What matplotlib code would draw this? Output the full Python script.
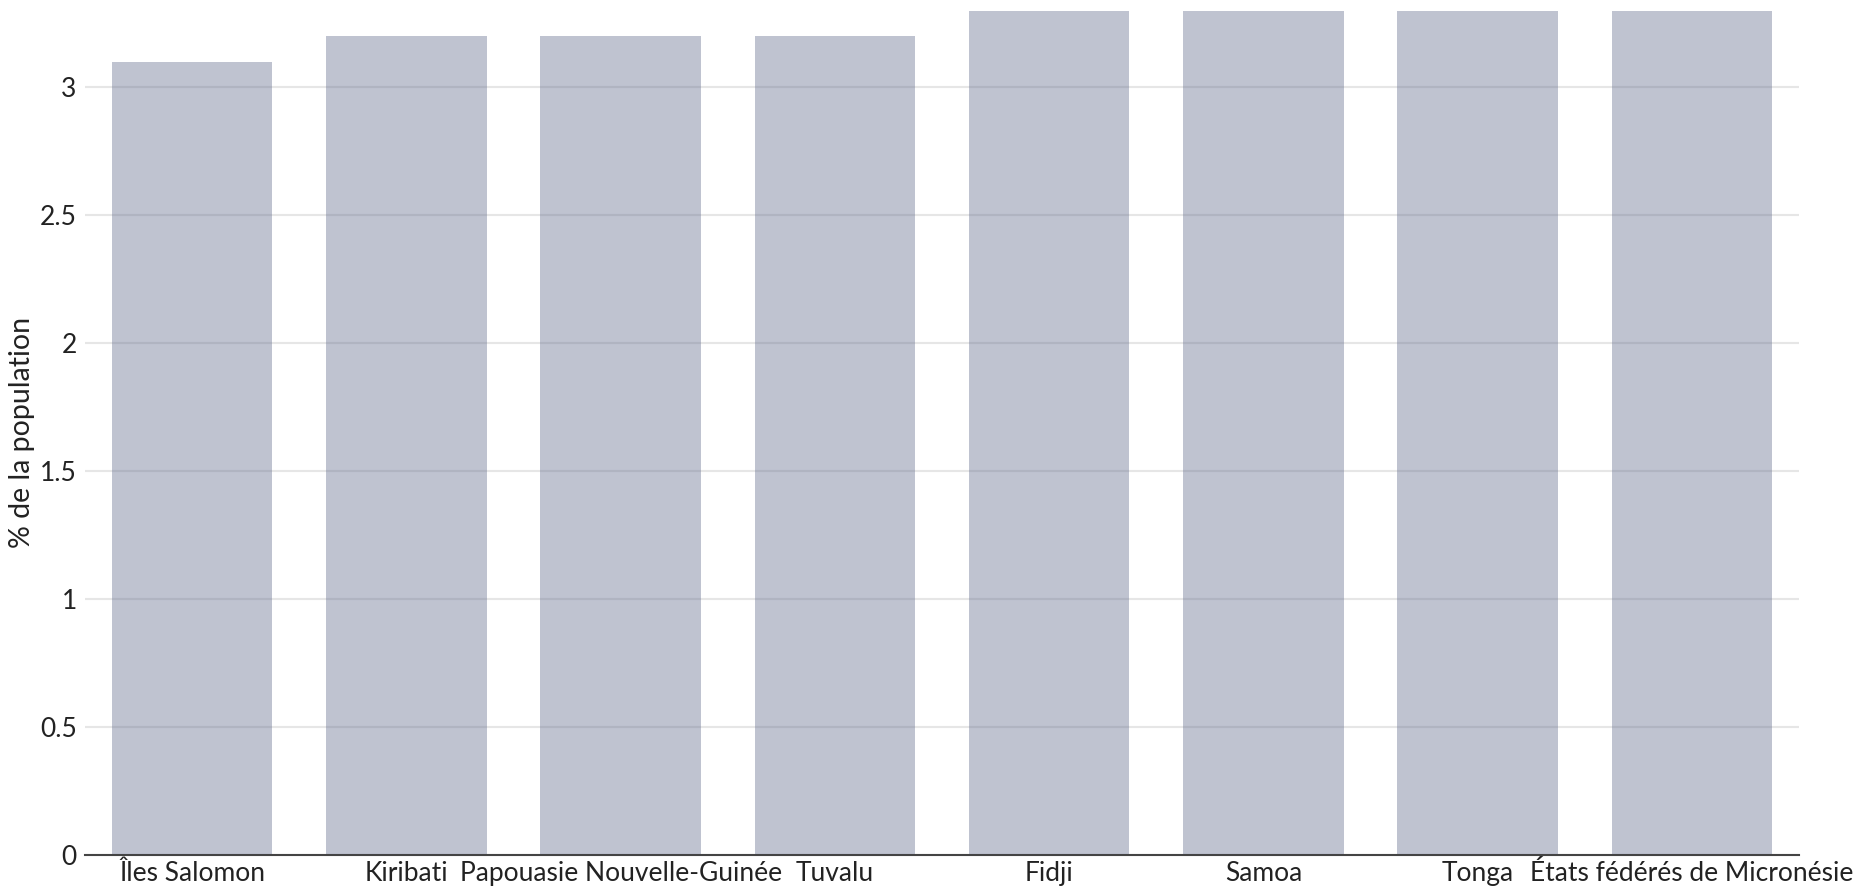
import matplotlib
matplotlib.use("Agg")
import matplotlib.pyplot as plt
from matplotlib.ticker import FuncFormatter

categories = ["Îles Salomon", "Kiribati", "Papouasie Nouvelle-Guinée", "Tuvalu",
              "Fidji", "Samoa", "Tonga", "États fédérés de Micronésie"]
values = [3.1, 3.2, 3.2, 3.2, 3.3, 3.3, 3.3, 3.3]
yticks = [0, 0.5, 1, 1.5, 2, 2.5, 3]

plt.rcParams['font.family'] = ['Lato', 'DejaVu Sans']

fig = plt.figure(figsize=(18.57, 8.92), dpi=100)
ax = fig.add_axes([85/1857, 37/892, (1799-85)/1857, (855-8)/892])

x = list(range(len(categories)))
ax.bar(x, values, width=0.75, color='#5f698a', alpha=0.4, linewidth=0, zorder=2)

ax.set_xlim(-0.5, len(categories) - 0.5)
ax.set_ylim(0, 3.31)
ax.set_yticks(yticks)
ax.yaxis.set_major_formatter(FuncFormatter(lambda v, p: f"{v:g}"))
ax.set_xticks(x)
ax.set_xticklabels(categories)
ax.grid(axis='y', color='#e6e6e6', linewidth=1.5, zorder=1)
ax.set_axisbelow(True)
for s in ['top', 'right', 'left']:
    ax.spines[s].set_visible(False)
ax.spines['bottom'].set_color('#444444')
ax.spines['bottom'].set_linewidth(1.5)
ax.spines['bottom'].set_zorder(3)
ax.tick_params(axis='both', length=0, labelsize=19, colors='#222222')
ax.tick_params(axis='x', pad=4)
ax.tick_params(axis='y', pad=6)
fig.text(22/1857, (892 - 432)/892, "% de la population", rotation=90,
         ha='center', va='center', fontsize=20.5, color='#222222')

fig.savefig("out.png", dpi=100)
